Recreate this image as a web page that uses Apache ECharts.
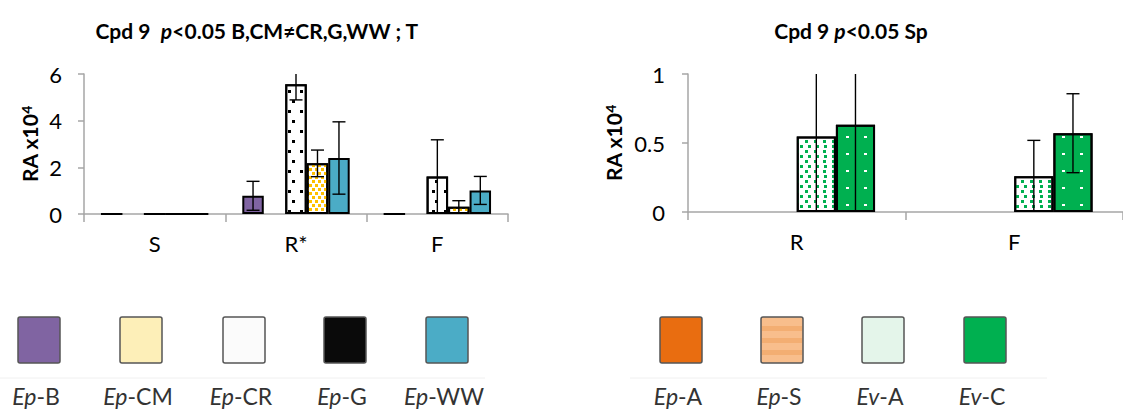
<!DOCTYPE html>
<html><head><meta charset="utf-8">
<script src="https://cdn.jsdelivr.net/npm/echarts@6/dist/echarts.min.js"></script>
<style>html,body{margin:0;padding:0;background:#fff}#c{width:1123px;height:412px}</style>
</head><body><div id="c"></div>
<script>
// ---------- data ----------
const leftCats = ['S', 'R*', 'F'];
const leftTicks = [0, 2, 4, 6];
const epB  = [0, 0.78, 0];
const epG  = [null, null, null];
const epCR = [0, 5.56, 1.61];
const epCM = [0, 2.17, 0.31];
const epWW = [0, 2.40, 1.01];
const errB  = [null, 0.62, null];
const errG  = [null, null, null];
const errCR = [null, 0.67, 1.57];
const errCM = [null, 0.57, 0.26];
const errWW = [null, 1.55, 0.60];

const rightCats = ['R', 'F'];
const rightTicks = [0, 0.5, 1];
const epA = [null, null];
const epS = [null, null];
const evA = [0.547, 0.259];
const evC = [0.632, 0.571];
const errEpA = [null, null];
const errEpS = [null, null];
const errEvA = [0.62, 0.26];
const errEvC = [0.66, 0.286];

const leftLegend = ['Ep-B', 'Ep-CM', 'Ep-CR', 'Ep-G', 'Ep-WW'];
const rightLegend = ['Ep-A', 'Ep-S', 'Ev-A', 'Ev-C'];
const leftTitle = ['Cpd 9  ', 'p', '<0.05 B,CM\u2260CR,G,WW ; T'];
const rightTitle = ['Cpd 9 ', 'p', '<0.05 Sp'];
const yName = ['RA x10', '4'];

// ---------- styles ----------
const FF = 'Lato, "Open Sans", "Liberation Sans", sans-serif';
const AX = '#a6a6a6';
const LGAP = 24, RGAP = 28;

const styles = {
  'Ep-B':  {color: '#8064a2'},
  'Ep-G':  {color: '#000000'},
  'Ep-CR': {color: '#ffffff', decal: {symbol: 'rect', symbolSize: 1, color: '#000', dashArrayX: [[2.2, 9], [0, 5.5, 2.2, 3.5]], dashArrayY: [2.2, 6.5]}},
  'Ep-CM': {color: '#ffffff', decal: {symbol: 'rect', symbolSize: 1, color: '#ffc000', dashArrayX: [[3, 3], [0, 3, 3, 0]], dashArrayY: [3, 0.01]}},
  'Ep-WW': {color: '#4bacc6'},
  'Ep-A':  {color: '#e46c0a'},
  'Ep-S':  {color: '#fac090'},
  'Ev-A':  {color: '#ffffff', decal: {symbol: 'rect', symbolSize: 1, color: '#00b050', dashArrayX: [[2.5, 5], [0, 3.75, 2.5, 1.25]], dashArrayY: [2.5, 1.8]}},
  'Ev-C':  {color: '#00b050', decal: {symbol: 'rect', symbolSize: 1, color: '#ffffff', dashArrayX: [2.5, 14.5], dashArrayY: [2, 15]}}
};

function barSeries(name, data, xi, gap) {
  const s = styles[name];
  return {name, type: 'bar', xAxisIndex: xi, yAxisIndex: xi, data, barGap: '0%', barCategoryGap: gap + '%',
    itemStyle: {color: s.color, borderColor: '#000', borderWidth: 2, decal: s.decal || null},
    emphasis: {disabled: true}, z: 2};
}
function errSeries(vals, errs, slot, n, gap, xi) {
  const data = [];
  vals.forEach((v, i) => { if (v != null && errs[i] != null) data.push([i, v, errs[i]]); });
  return {type: 'custom', xAxisIndex: xi, yAxisIndex: xi, clip: true, z: 5, silent: true, data,
    encode: {x: 0, y: 1},
    renderItem(params, api) {
      const i = api.value(0), v = api.value(1), e = api.value(2);
      const catW = api.size([1, 0])[0];
      const bw = catW * (1 - gap / 100) / n;
      const x = api.coord([i, v])[0] + (slot - (n - 1) / 2) * bw;
      const yt = api.coord([i, v + e])[1], yb = api.coord([i, v - e])[1];
      const h = 6.5;
      const st = {stroke: '#000', lineWidth: 1.4, fill: null};
      return {type: 'group', children: [
        {type: 'line', shape: {x1: x, y1: yt, x2: x, y2: yb}, style: st},
        {type: 'line', shape: {x1: x - h, y1: yt, x2: x + h, y2: yt}, style: st},
        {type: 'line', shape: {x1: x - h, y1: yb, x2: x + h, y2: yb}, style: st}
      ]};
    }};
}

function xAx(gi, data) {
  return {gridIndex: gi, type: 'category', data,
    axisLine: {lineStyle: {color: AX, width: 1.5}},
    axisTick: {show: true, length: 8, lineStyle: {color: AX, width: 1.5}},
    axisLabel: {color: '#000', fontSize: 22, fontFamily: FF, margin: 18}};
}
function yAx(gi, ticks, gapName, margin) {
  return {gridIndex: gi, type: 'value', min: ticks[0], max: ticks[ticks.length - 1], interval: ticks[1] - ticks[0],
    splitLine: {show: false},
    axisLine: {show: true, lineStyle: {color: AX, width: 1.5}},
    axisTick: {show: true, length: 6, lineStyle: {color: AX, width: 1.5}},
    axisLabel: {color: '#000', fontSize: 22, fontFamily: FF, margin},
    name: yName[0] + '{s|' + yName[1] + '}', nameLocation: 'middle', nameRotate: 90, nameGap: gapName,
    nameTextStyle: {color: '#000', fontWeight: 'bold', fontSize: 21, fontFamily: FF,
      rich: {s: {color: '#000', fontWeight: 'bold', fontSize: 14, fontFamily: FF, verticalAlign: 'top', lineHeight: 14}}}};
}

const leftVals = {'Ep-B': [epB, errB], 'Ep-G': [epG, errG], 'Ep-CR': [epCR, errCR], 'Ep-CM': [epCM, errCM], 'Ep-WW': [epWW, errWW]};
const leftOrder = ['Ep-B', 'Ep-G', 'Ep-CR', 'Ep-CM', 'Ep-WW'];
const rightVals = {'Ep-A': [epA, errEpA], 'Ep-S': [epS, errEpS], 'Ev-A': [evA, errEvA], 'Ev-C': [evC, errEvC]};
const rightOrder = ['Ep-A', 'Ep-S', 'Ev-A', 'Ev-C'];

const series = [];
leftOrder.forEach((n, k) => { series.push(barSeries(n, leftVals[n][0], 0, LGAP)); });
leftOrder.forEach((n, k) => { series.push(errSeries(leftVals[n][0], leftVals[n][1], k, leftOrder.length, LGAP, 0)); });
rightOrder.forEach((n, k) => { series.push(barSeries(n, rightVals[n][0], 1, RGAP)); });
rightOrder.forEach((n, k) => { series.push(errSeries(rightVals[n][0], rightVals[n][1], k, rightOrder.length, RGAP, 1)); });

// ---------- graphics: titles + legends ----------
function titleText(parts, x) {
  const b = {fontWeight: 'bold', fontSize: 21, fontFamily: FF, fill: '#000'};
  return {type: 'text', x, y: 30, style: {
    text: '{b|' + parts[0] + '}{i|' + parts[1] + '}{b|' + parts[2] + '}',
    rich: {b: b, i: Object.assign({}, b, {fontStyle: 'italic'})},
    align: 'center', verticalAlign: 'middle'}};
}
const legendFill = {
  'Ep-B': '#8064a2', 'Ep-CM': '#fdefb8', 'Ep-CR': '#fbfbfb', 'Ep-G': '#0a0a0a', 'Ep-WW': '#4bacc6',
  'Ep-A': '#e96d10', 'Ep-S': '#f8be8c', 'Ev-A': '#e4f5ea', 'Ev-C': '#00b050'
};
function legendItem(name, cx) {
  const parts = name.split('-');
  const items = [
    {type: 'rect', shape: {x: cx - 21, y: 317, width: 42, height: 46, r: 2},
      style: {fill: legendFill[name], stroke: '#555', lineWidth: 1.5}},
    {type: 'text', x: cx - 3, y: 396, style: {
      text: '{i|' + parts[0] + '}{n|-' + parts[1] + '}',
      rich: {i: {fontSize: 23, lineHeight: 23, fontFamily: FF, fontStyle: 'italic', fill: '#333'},
             n: {fontSize: 23, lineHeight: 23, fontFamily: FF, fill: '#333'}},
      align: 'center', verticalAlign: 'middle'}}
  ];
  if (name === 'Ep-S') {
    [326, 338, 350].forEach(y => items.push({type: 'rect', shape: {x: cx - 20, y, width: 40, height: 5}, style: {fill: '#f3ae72'}}));
  }
  return items;
}
const leftLegendX = [39, 141, 244, 345, 447];
const rightLegendX = [681, 782, 883, 985];
let graphics = [titleText(leftTitle, 257), titleText(rightTitle, 851),
  {type: 'line', shape: {x1: 0, y1: 378, x2: 485, y2: 378}, style: {stroke: '#f0f0f0', lineWidth: 1}},
  {type: 'line', shape: {x1: 630, y1: 378, x2: 1047, y2: 378}, style: {stroke: '#f0f0f0', lineWidth: 1}}];
leftLegend.forEach((n, i) => { graphics = graphics.concat(legendItem(n, leftLegendX[i])); });
rightLegend.forEach((n, i) => { graphics = graphics.concat(legendItem(n, rightLegendX[i])); });

const chart = echarts.init(document.getElementById('c'), null, {renderer: 'svg'});
chart.setOption({
  animation: false,
  backgroundColor: '#fff',
  grid: [
    {left: 84, top: 74, width: 424, height: 140},
    {left: 688, top: 74, width: 444, height: 138}
  ],
  xAxis: [xAx(0, leftCats), xAx(1, rightCats)],
  yAxis: [yAx(0, leftTicks, 44, 22), yAx(1, rightTicks, 64, 23)],
  series,
  graphic: graphics
});
</script></body></html>
